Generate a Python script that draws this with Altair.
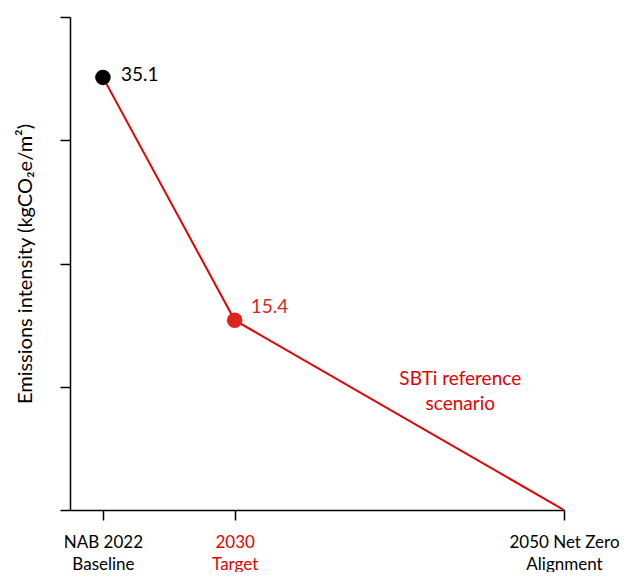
import altair as alt
import pandas as pd

years = [2022, 2030, 2050]
values = [35.1, 15.4, 0.0]
point_colors = ["#000000", "#e2231a"]
value_labels = ["35.1", "15.4"]
tick_line1 = ["NAB 2022", "2030", "2050 Net Zero"]
tick_line2 = ["Baseline", "Target", "Alignment"]
note_year = [2043.7]
note_value = [10.6]
note_text = [["SBTi reference", "scenario"]]

RED = "#e60000"
FONT = "Lato"
FS = 19

df = pd.DataFrame({"year": years, "value": values})
pts = pd.DataFrame({"year": years[:2], "value": values[:2],
                    "color": point_colors, "label": value_labels})
note = pd.DataFrame({"year": note_year, "value": note_value, "text": note_text})

label_expr = "{" + ", ".join(
    f"'{y}': ['{a}', '{b}']" for y, a, b in zip(years, tick_line1, tick_line2)
) + "}[datum.value]"

x = alt.X("year:Q",
          scale=alt.Scale(domain=[2020, 2050], nice=False, zero=False),
          axis=alt.Axis(values=years, labelExpr=label_expr, title=None,
                        grid=False, tickSize=10, tickColor="black", tickWidth=1.5,
                        domainColor="black", domainWidth=1.5,
                        labelFont=FONT, labelFontSize=17, labelPadding=14,
                        labelLineHeight=22, labelBaseline="top", labelFlush=False,
                        labelOverlap=False,
                        labelColor={"condition": {"test": "datum.value == 2030", "value": RED},
                                    "value": "black"}))
y = alt.Y("value:Q",
          scale=alt.Scale(domain=[0, 40], nice=False),
          axis=alt.Axis(values=[0, 10, 20, 30, 40], labels=False, grid=False,
                        title="Emissions intensity (kgCO₂e/m²)",
                        titleFont=FONT, titleFontSize=20, titleFontWeight="normal",
                        titlePadding=24, titleColor="black",
                        tickSize=10, tickColor="black", tickWidth=1.5,
                        domainColor="black", domainWidth=1.5))

line = alt.Chart(df).mark_line(color=RED, strokeWidth=2).encode(x=x, y=y)
points = alt.Chart(pts).mark_circle(size=240, opacity=1).encode(
    x=x, y=y, color=alt.Color("color:N", scale=None))
label_a = alt.Chart(pts).transform_filter(alt.datum.year == years[0]).mark_text(
    align="left", dx=18, dy=-2, font=FONT, fontSize=FS).encode(
    x=x, y=y, text="label:N", color=alt.Color("color:N", scale=None))
label_b = alt.Chart(pts).transform_filter(alt.datum.year == years[1]).mark_text(
    align="left", dx=16, dy=-13, font=FONT, fontSize=FS).encode(
    x=x, y=y, text="label:N", color=alt.Color("color:N", scale=None))
note_mark = alt.Chart(note).mark_text(align="center", font=FONT, fontSize=FS,
                                      color=RED, lineHeight=25).encode(
    x=x, y=y, text="text")

chart = alt.layer(line, points, label_a, label_b, note_mark).properties(
    width=494, height=493,
    autosize=alt.AutoSizeParams(type="none"),
    padding={"left": 62, "top": 9, "right": 55, "bottom": 62},
).configure(background="white", view={"stroke": None})

chart.save("out.html", embed_options={"renderer": "svg", "actions": False})
